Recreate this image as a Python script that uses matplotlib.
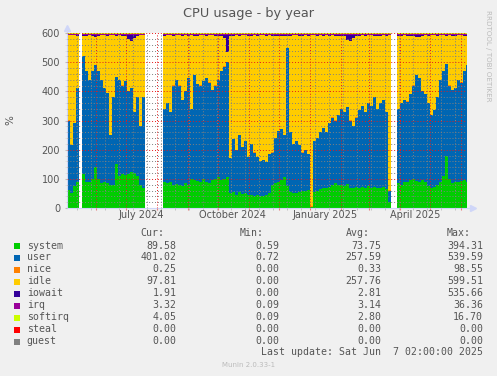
import numpy as np
import matplotlib
matplotlib.use("Agg")
import matplotlib.pyplot as plt
import matplotlib.dates as mdates
import matplotlib.transforms as mtransforms
from matplotlib.ticker import MultipleLocator, NullFormatter
from matplotlib.patches import Rectangle

# time range of the munin "year" graph: 400 days, one sample every 3 days
end_time = np.datetime64("2025-06-07T02:00")
start_time = end_time - np.timedelta64(400, "D")
step_days = 3
gap = np.nan
total_capacity = 600  # 6 cpus x 100 %

# per-sample values (%), gaps = no data
system = [
    62, 50, 75, 90, gap,
    115, 90, 88, 100, 140, 100, 86, 88, 85, 80, 78, 150, 110, 115, 112, 118, 125, 120, 110, 80, 70,
    gap, gap, gap, gap, gap, gap,
    90, 85, 88, 80, 82, 78, 75, 85, 80, 100, 95, 92, 88, 100, 90, 85, 95, 100, 105,
    95, 100, 105, 50, 55, 45, 55, 48, 50, 45, 45, 42, 45, 40, 42, 45, 50, 80, 85,
    90, 95, 105, 75, 55, 52, 50, 55, 58, 60, 62, 2, 55, 60, 65, 70, 68, 72, 80,
    85, 78, 80, 75, 82, 70, 68, 72, 70, 72, 68, 75, 70, 72, 68, 70, 72, 65, 20,
    gap, gap,
    85, 80, 90, 88, 95, 100, 92, 90, 95, 88, 75, 70, 72, 80, 90, 110, 180, 100, 85, 88, 90, 92, 95, 90,
]
user = [
    238, 166, 215, 320, gap,
    405, 380, 352, 370, 350, 370, 354, 322, 310, 170, 302, 300, 330, 305, 323, 282, 285, 210, 270, 200, 310,
    gap, gap, gap, gap, gap, gap,
    250, 275, 242, 340, 358, 342, 295, 315, 365, 240, 360, 333, 332, 335, 355, 345, 310, 320, 335,
    375, 385, 395, 120, 180, 155, 195, 162, 180, 130, 175, 148, 130, 120, 123, 113, 135, 110, 155,
    175, 175, 145, 475, 205, 168, 180, 160, 132, 140, 123, 3, 175, 180, 195, 205, 192, 218, 230,
    215, 242, 260, 255, 263, 230, 212, 238, 265, 278, 262, 285, 280, 308, 272, 290, 298, 265, 40,
    gap, gap,
    255, 280, 280, 277, 295, 320, 363, 355, 305, 302, 285, 250, 263, 300, 350, 360, 315, 320, 320, 322, 350, 338, 375, 400,
]
nice = [
    0.3, 0.3, 0.2, 0.3, gap,
    0.3, 0.4, 0.3, 0.3, 0.2, 0.3, 0.3, 0.4, 0.3, 0.3, 0.3, 0.2, 0.3, 0.3, 0.4, 0.3, 0.3, 0.3, 0.2, 0.3, 0.3,
    gap, gap, gap, gap, gap, gap,
    0.3, 0.3, 0.4, 0.3, 0.3, 0.2, 0.3, 0.3, 0.3, 0.4, 0.3, 0.3, 0.2, 0.3, 0.3, 0.3, 0.4, 0.3, 0.3,
    0.3, 0.2, 0.3, 0.3, 0.4, 0.3, 0.3, 0.3, 0.2, 0.3, 0.3, 0.4, 0.3, 0.3, 0.3, 0.2, 0.3, 0.3, 0.4,
    0.3, 0.3, 0.3, 0.2, 0.3, 0.3, 0.4, 0.3, 0.3, 0.3, 0.2, 0.3, 0.3, 0.4, 0.3, 0.3, 0.3, 0.2, 0.3,
    0.3, 0.4, 0.3, 0.3, 0.3, 0.2, 0.3, 0.3, 0.4, 0.3, 0.3, 0.3, 0.2, 0.3, 0.3, 0.4, 0.3, 0.3, 0.3,
    gap, gap,
    0.3, 0.3, 0.2, 0.3, 0.3, 0.4, 0.3, 0.3, 0.3, 0.2, 0.3, 0.3, 0.4, 0.3, 0.3, 0.3, 0.2, 0.3, 0.3, 0.4, 0.3, 0.3, 0.3, 0.25,
]
iowait = [
    2, 2.5, 2, 2.5, gap,
    3, 2.5, 2, 3, 8, 3, 2.5, 2, 3, 2.5, 2, 3, 2.5, 3, 6, 15, 20, 12, 3, 2.5, 2,
    gap, gap, gap, gap, gap, gap,
    3, 2.5, 2, 3, 2.5, 2, 3, 2.5, 3, 2, 2.5, 3, 2.5, 2, 3, 2.5, 2, 3, 3,
    4, 10, 60, 4, 3, 2.5, 3, 2, 2.5, 3, 2.5, 2, 3, 2.5, 2, 3, 2.5, 3, 3.5,
    4, 5, 4, 3, 3, 2.5, 2, 3, 2.5, 2, 3, 2.5, 2, 3, 2.5, 3, 2, 3, 2.5,
    3, 4, 3, 5, 18, 20, 10, 4, 3, 2.5, 3, 2.5, 2, 3, 2.5, 3, 2, 2.5, 2,
    gap, gap,
    3, 2.5, 2, 3, 3, 4, 6, 8, 3, 2.5, 3, 2, 2.5, 3, 2.5, 2, 3, 2.5, 3, 4, 2.5, 2, 3, 2,
]
irq = [
    3.0, 3.1, 3.0, 3.2, gap,
    3.1, 3.2, 3.0, 3.1, 3.3, 3.1, 3.0, 3.2, 3.1, 3.0, 3.1, 3.3, 3.1, 3.2, 3.0, 3.1, 3.2, 3.1, 3.0, 3.1, 3.0,
    gap, gap, gap, gap, gap, gap,
    3.1, 3.0, 3.2, 3.1, 3.1, 3.0, 3.2, 3.1, 3.0, 3.1, 3.2, 3.1, 3.0, 3.1, 3.2, 3.1, 3.0, 3.1, 3.2,
    3.1, 3.3, 3.4, 3.0, 3.1, 3.0, 3.2, 3.1, 3.0, 3.1, 3.2, 3.1, 3.0, 3.1, 3.0, 3.2, 3.1, 3.0, 3.1,
    3.2, 3.1, 3.0, 3.1, 3.2, 3.1, 3.0, 3.1, 3.2, 3.1, 3.0, 3.1, 3.2, 3.1, 3.0, 3.1, 3.2, 3.1, 3.0,
    3.1, 3.2, 3.1, 3.0, 3.3, 3.4, 3.2, 3.1, 3.0, 3.1, 3.2, 3.1, 3.0, 3.1, 3.2, 3.1, 3.0, 3.1, 3.0,
    gap, gap,
    3.1, 3.2, 3.1, 3.0, 3.1, 3.2, 3.3, 3.2, 3.1, 3.0, 3.1, 3.2, 3.1, 3.0, 3.1, 3.2, 3.4, 3.1, 3.2, 3.3, 3.1, 3.2, 3.3, 3.3,
]
softirq = [
    2.7, 2.8, 2.7, 2.9, gap,
    2.8, 2.9, 2.7, 2.8, 3.0, 2.8, 2.7, 2.8, 2.8, 2.7, 2.8, 3.0, 2.8, 2.9, 2.8, 2.8, 2.9, 2.8, 2.7, 2.8, 2.7,
    gap, gap, gap, gap, gap, gap,
    2.8, 2.7, 2.9, 2.8, 2.8, 2.7, 2.9, 2.8, 2.7, 2.8, 2.9, 2.8, 2.7, 2.8, 2.9, 2.8, 2.7, 2.8, 2.9,
    2.8, 3.0, 3.1, 2.7, 2.8, 2.7, 2.9, 2.8, 2.7, 2.8, 2.9, 2.8, 2.7, 2.8, 2.7, 2.9, 2.8, 2.7, 2.8,
    2.9, 2.8, 2.7, 2.8, 2.9, 2.8, 2.7, 2.8, 2.9, 2.8, 2.7, 2.8, 2.9, 2.8, 2.7, 2.8, 2.9, 2.8, 2.7,
    2.8, 2.9, 2.8, 2.7, 3.0, 3.1, 2.9, 2.8, 2.7, 2.8, 2.9, 2.8, 2.7, 2.8, 2.9, 2.8, 3.5, 4.0, 2.8,
    gap, gap,
    2.8, 2.9, 2.8, 2.7, 2.8, 2.9, 3.0, 2.9, 2.8, 2.7, 2.8, 2.9, 2.8, 2.7, 2.8, 2.9, 3.1, 2.8, 2.9, 3.0, 2.8, 2.9, 3.0, 4.0,
]

# legend table
series_names = ["system", "user", "nice", "idle", "iowait", "irq", "softirq", "steal", "guest"]
series_colors = ["#00CC00", "#0066B3", "#FF8000", "#FFCC00", "#330099",
                 "#990099", "#CCFF00", "#FF0000", "#808080"]
cur_vals = [89.58, 401.02, 0.25, 97.81, 1.91, 3.32, 4.05, 0.00, 0.00]
min_vals = [0.59, 0.72, 0.00, 0.00, 0.00, 0.09, 0.09, 0.00, 0.00]
avg_vals = [73.75, 257.59, 0.33, 257.76, 2.81, 3.14, 2.80, 0.00, 0.00]
max_vals = [394.31, 539.59, 98.55, 599.51, 535.66, 36.36, 16.70, 0.00, 0.00]

label_dates = ["2024-07-16", "2024-10-16", "2025-01-16", "2025-04-16"]
label_texts = ["July 2024", "October 2024", "January 2025", "April 2025"]

# idle is whatever the other states leave free
busy = np.array(system) + np.array(user) + np.array(nice) + np.array(iowait) + np.array(irq) + np.array(softirq)
idle = total_capacity - busy

stack = [system, user, nice, idle, iowait, irq, softirq]

W, H = 497, 376
fig = plt.figure(figsize=(W / 100, H / 100), dpi=100, facecolor="#F0F0F0")
ax = fig.add_axes([67 / W, 1 - 208 / H, 400 / W, 175 / H])
ax.set_facecolor("white")

times = start_time + np.arange(len(system)) * np.timedelta64(step_days, "D")
xnum = mdates.date2num(times)
bottom = np.zeros(len(system))
for vals, col in zip(stack, series_colors):
    vals = np.asarray(vals, dtype=float)
    ax.bar(xnum, vals, width=step_days, bottom=bottom, align="edge", color=col,
           linewidth=0, antialiased=False, zorder=1)
    bottom = bottom + vals

ax.xaxis_date()
ax.set_xlim(mdates.date2num(start_time), mdates.date2num(end_time))
ax.set_ylim(0, 600)

# grid like rrdtool: months red, 2 weeks grey, 100 red, 20 grey
ax.xaxis.set_major_locator(mdates.MonthLocator())
ax.xaxis.set_minor_locator(mdates.WeekdayLocator(byweekday=mdates.MO, interval=2))
ax.xaxis.set_major_formatter(NullFormatter())
ax.xaxis.set_minor_formatter(NullFormatter())
ax.yaxis.set_major_locator(MultipleLocator(100))
ax.yaxis.set_minor_locator(MultipleLocator(20))
ax.set_axisbelow(False)
ax.grid(which="major", color=(0.9, 0.1, 0.1, 0.4), linestyle=(0, (1, 2)), linewidth=0.7)
ax.grid(which="minor", color=(0.5, 0.5, 0.5, 0.25), linestyle=(0, (1, 2)), linewidth=0.7)

axis_col = "#CFD6F8"
for s in ["top", "right"]:
    ax.spines[s].set_visible(False)
for s in ["left", "bottom"]:
    ax.spines[s].set_color(axis_col)
    ax.spines[s].set_linewidth(0.8)

ax.tick_params(axis="x", which="major", length=1.5, color=(0.9, 0.2, 0.2, 0.6), direction="out")
ax.tick_params(axis="x", which="minor", length=1.5, color="#BBBBBB", direction="out")
ax.tick_params(axis="y", which="major", length=1.5, color="#BBBBBB", direction="out",
               pad=3.5, labelsize=7, labelcolor="#555555")
ax.tick_params(axis="y", which="minor", length=1.5, color="#DDDDDD", direction="out")

# arrows at the axis ends
ax.plot([1.0, 1.012], [0, 0], color=axis_col, lw=0.8, transform=ax.transAxes, clip_on=False)
ax.plot([1.014], [0], marker=">", ms=4, color=axis_col, transform=ax.transAxes, clip_on=False)
ax.plot([0, 0], [1.0, 1.02], color=axis_col, lw=0.8, transform=ax.transAxes, clip_on=False)
ax.plot([0], [1.03], marker="^", ms=4, color=axis_col, transform=ax.transAxes, clip_on=False)

# month labels centred mid-month as rrdtool does
blend = mtransforms.blended_transform_factory(ax.transData, fig.transFigure)
for d, t in zip(label_dates, label_texts):
    ax.text(mdates.date2num(np.datetime64(d)), 1 - 217.5 / H, t, transform=blend,
            ha="center", va="baseline", fontsize=7, color="#555555")

txt = "#555555"
fig.text(0.5, 1 - 13 / H, "CPU usage - by year", ha="center", va="center", fontsize=9.3, color=txt)
fig.text(10.3 / W, 1 - 120.5 / H, "%", rotation=90, ha="center", va="center", fontsize=7.5, color=txt)
fig.text(488 / W, 1 - 56 / H, "RRDTOOL / TOBI OETIKER", rotation=270, ha="center", va="center",
         fontsize=5.1, color="#BBBBBB")

# legend table
mono = dict(family="DejaVu Sans Mono", fontsize=7.1, color=txt)
header_y = 233.3
fig.text(140 / W, 1 - header_y / H, "Cur:", ha="left", va="center", **mono)
fig.text(239.5 / W, 1 - header_y / H, "Min:", ha="left", va="center", **mono)
fig.text(346 / W, 1 - header_y / H, "Avg:", ha="left", va="center", **mono)
fig.text(447 / W, 1 - header_y / H, "Max:", ha="left", va="center", **mono)
for i, name in enumerate(series_names):
    y = 245.5 + 12 * i
    fig.patches.append(Rectangle((14 / W, 1 - (y + 3) / H), 6 / W, 6 / H,
                                 transform=fig.transFigure, color=series_colors[i], lw=0))
    fig.text(26.7 / W, 1 - y / H, name, ha="left", va="center", **mono)
    fig.text(176.5 / W, 1 - y / H, f"{cur_vals[i]:.2f}", ha="right", va="center", **mono)
    fig.text(279.5 / W, 1 - y / H, f"{min_vals[i]:.2f}", ha="right", va="center", **mono)
    fig.text(381.5 / W, 1 - y / H, f"{avg_vals[i]:.2f}", ha="right", va="center", **mono)
    fig.text(483 / W, 1 - y / H, f"{max_vals[i]:.2f}", ha="right", va="center", **mono)

fig.text(483 / W, 1 - 352 / H, "Last update: Sat Jun  7 02:00:00 2025", ha="right", va="center", **mono)
fig.text(248.5 / W, 1 - 365 / H, "Munin 2.0.33-1", ha="center", va="center", fontsize=5, color="#BBBBBB")

fig.savefig("out.png", dpi=100, facecolor=fig.get_facecolor())
